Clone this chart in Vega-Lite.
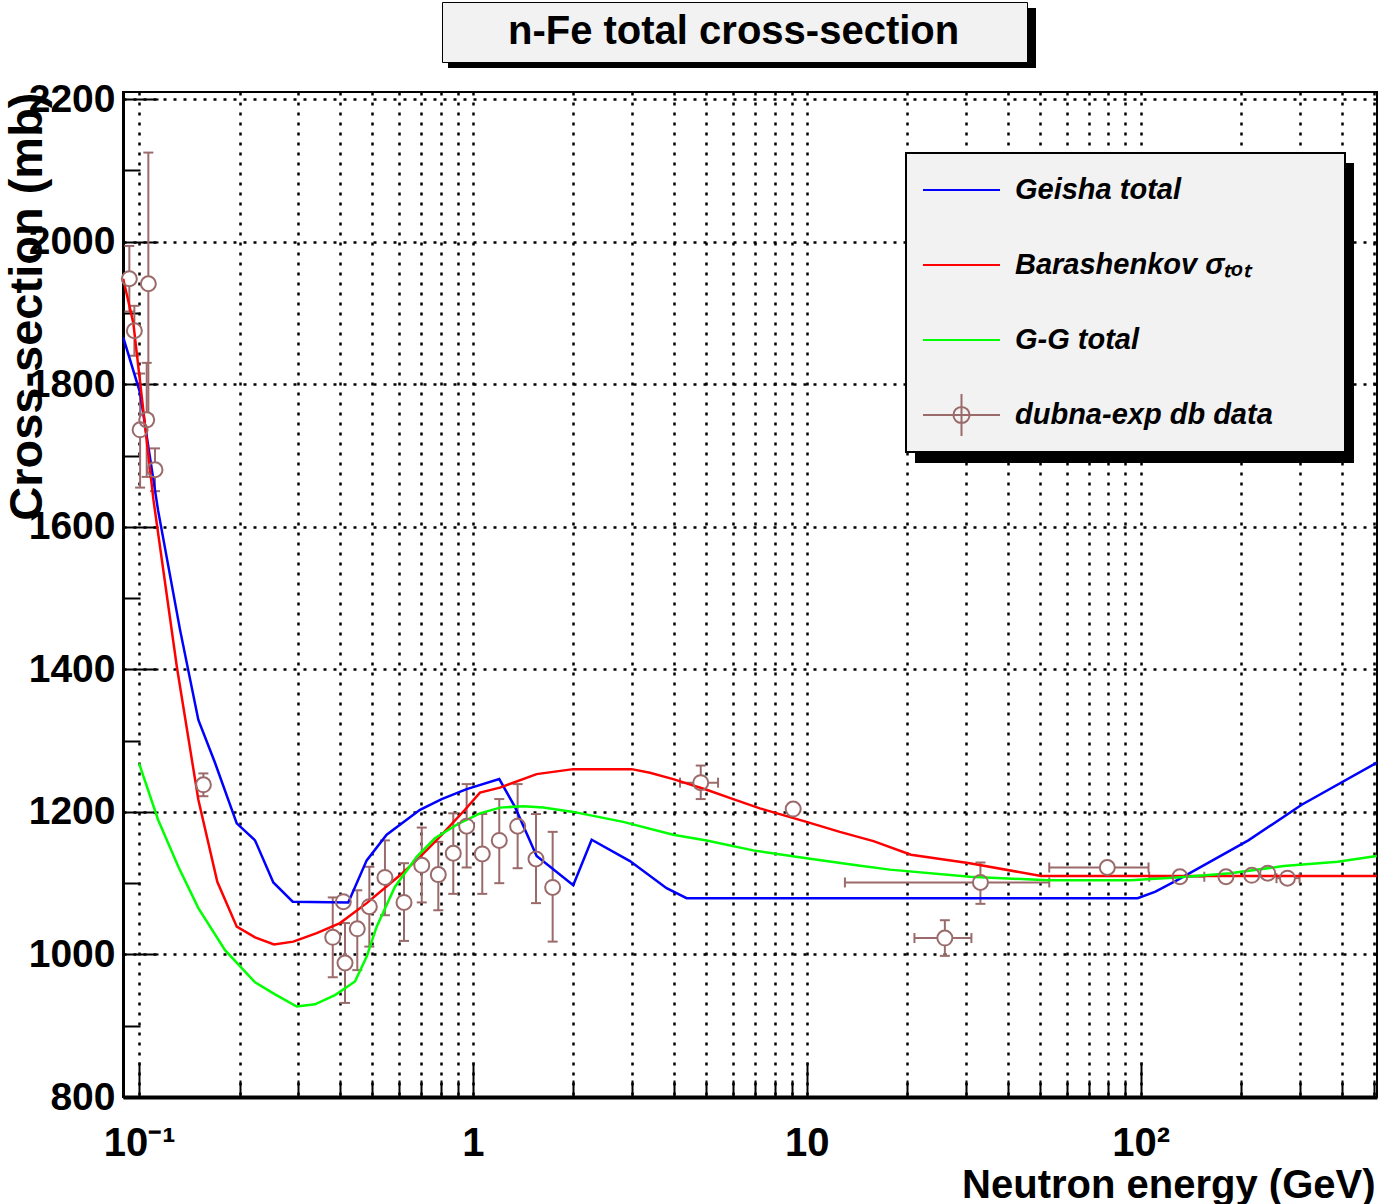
{
  "$schema": "https://vega.github.io/schema/vega-lite/v6.json",
  "width": 1254,
  "height": 1005,
  "autosize": {"type": "none"},
  "padding": {"left": 123, "top": 92, "right": 1, "bottom": 107},
  "background": "white",
  "config": {
    "view": {"stroke": "black", "strokeWidth": 2},
    "legend": {"direction": "vertical", "orient": "none"}
  },
  "datasets": {
    "curves": [
      {"series": "Geisha total", "energy": 0.0896, "xsec": 1866},
      {"series": "Geisha total", "energy": 0.1007, "xsec": 1788},
      {"series": "Geisha total", "energy": 0.114, "xsec": 1623},
      {"series": "Geisha total", "energy": 0.1327, "xsec": 1455},
      {"series": "Geisha total", "energy": 0.1505, "xsec": 1329},
      {"series": "Geisha total", "energy": 0.1688, "xsec": 1269},
      {"series": "Geisha total", "energy": 0.1961, "xsec": 1184},
      {"series": "Geisha total", "energy": 0.2225, "xsec": 1160},
      {"series": "Geisha total", "energy": 0.2524, "xsec": 1101},
      {"series": "Geisha total", "energy": 0.2885, "xsec": 1074},
      {"series": "Geisha total", "energy": 0.4232, "xsec": 1073},
      {"series": "Geisha total", "energy": 0.4805, "xsec": 1132},
      {"series": "Geisha total", "energy": 0.5514, "xsec": 1168},
      {"series": "Geisha total", "energy": 0.6939, "xsec": 1203},
      {"series": "Geisha total", "energy": 0.8058, "xsec": 1218},
      {"series": "Geisha total", "energy": 0.9574, "xsec": 1232},
      {"series": "Geisha total", "energy": 1.1988, "xsec": 1246},
      {"series": "Geisha total", "energy": 1.3357, "xsec": 1207},
      {"series": "Geisha total", "energy": 1.551, "xsec": 1138},
      {"series": "Geisha total", "energy": 1.9967, "xsec": 1097},
      {"series": "Geisha total", "energy": 2.267, "xsec": 1161},
      {"series": "Geisha total", "energy": 2.952, "xsec": 1131},
      {"series": "Geisha total", "energy": 3.801, "xsec": 1093},
      {"series": "Geisha total", "energy": 4.364, "xsec": 1079},
      {"series": "Geisha total", "energy": 97.89, "xsec": 1079},
      {"series": "Geisha total", "energy": 110.7, "xsec": 1088},
      {"series": "Geisha total", "energy": 128.2, "xsec": 1104},
      {"series": "Geisha total", "energy": 210.0, "xsec": 1160},
      {"series": "Geisha total", "energy": 303.4, "xsec": 1210},
      {"series": "Geisha total", "energy": 509, "xsec": 1269},
      {"series": "Barashenkov σₜₒₜ", "energy": 0.0896, "xsec": 1948},
      {"series": "Barashenkov σₜₒₜ", "energy": 0.0961, "xsec": 1886},
      {"series": "Barashenkov σₜₒₜ", "energy": 0.1019, "xsec": 1782},
      {"series": "Barashenkov σₜₒₜ", "energy": 0.1104, "xsec": 1638},
      {"series": "Barashenkov σₜₒₜ", "energy": 0.1297, "xsec": 1404},
      {"series": "Barashenkov σₜₒₜ", "energy": 0.1505, "xsec": 1217},
      {"series": "Barashenkov σₜₒₜ", "energy": 0.1715, "xsec": 1102},
      {"series": "Barashenkov σₜₒₜ", "energy": 0.1961, "xsec": 1039},
      {"series": "Barashenkov σₜₒₜ", "energy": 0.2225, "xsec": 1024},
      {"series": "Barashenkov σₜₒₜ", "energy": 0.2536, "xsec": 1014},
      {"series": "Barashenkov σₜₒₜ", "energy": 0.2897, "xsec": 1018},
      {"series": "Barashenkov σₜₒₜ", "energy": 0.3404, "xsec": 1030},
      {"series": "Barashenkov σₜₒₜ", "energy": 0.3997, "xsec": 1044},
      {"series": "Barashenkov σₜₒₜ", "energy": 0.4805, "xsec": 1072},
      {"series": "Barashenkov σₜₒₜ", "energy": 0.6045, "xsec": 1111},
      {"series": "Barashenkov σₜₒₜ", "energy": 0.6939, "xsec": 1137},
      {"series": "Barashenkov σₜₒₜ", "energy": 0.7873, "xsec": 1163},
      {"series": "Barashenkov σₜₒₜ", "energy": 0.9463, "xsec": 1203},
      {"series": "Barashenkov σₜₒₜ", "energy": 1.0495, "xsec": 1227},
      {"series": "Barashenkov σₜₒₜ", "energy": 1.2046, "xsec": 1234},
      {"series": "Barashenkov σₜₒₜ", "energy": 1.551, "xsec": 1253},
      {"series": "Barashenkov σₜₒₜ", "energy": 1.9967, "xsec": 1260},
      {"series": "Barashenkov σₜₒₜ", "energy": 2.987, "xsec": 1260},
      {"series": "Barashenkov σₜₒₜ", "energy": 3.388, "xsec": 1255},
      {"series": "Barashenkov σₜₒₜ", "energy": 3.978, "xsec": 1246},
      {"series": "Barashenkov σₜₒₜ", "energy": 5.009, "xsec": 1231},
      {"series": "Barashenkov σₜₒₜ", "energy": 6.017, "xsec": 1218},
      {"series": "Barashenkov σₜₒₜ", "energy": 7.233, "xsec": 1205},
      {"series": "Barashenkov σₜₒₜ", "energy": 9.979, "xsec": 1186},
      {"series": "Barashenkov σₜₒₜ", "energy": 12.55, "xsec": 1172},
      {"series": "Barashenkov σₜₒₜ", "energy": 15.83, "xsec": 1159},
      {"series": "Barashenkov σₜₒₜ", "energy": 20.49, "xsec": 1140},
      {"series": "Barashenkov σₜₒₜ", "energy": 30.76, "xsec": 1128},
      {"series": "Barashenkov σₜₒₜ", "energy": 50.33, "xsec": 1110},
      {"series": "Barashenkov σₜₒₜ", "energy": 509, "xsec": 1110},
      {"series": "G-G total", "energy": 0.1, "xsec": 1268},
      {"series": "G-G total", "energy": 0.114, "xsec": 1189},
      {"series": "G-G total", "energy": 0.1311, "xsec": 1123},
      {"series": "G-G total", "energy": 0.1505, "xsec": 1065},
      {"series": "G-G total", "energy": 0.1809, "xsec": 1006},
      {"series": "G-G total", "energy": 0.2225, "xsec": 961},
      {"series": "G-G total", "energy": 0.2554, "xsec": 944},
      {"series": "G-G total", "energy": 0.2967, "xsec": 927},
      {"series": "G-G total", "energy": 0.3363, "xsec": 930},
      {"series": "G-G total", "energy": 0.3862, "xsec": 943},
      {"series": "G-G total", "energy": 0.4433, "xsec": 962},
      {"series": "G-G total", "energy": 0.4805, "xsec": 997},
      {"series": "G-G total", "energy": 0.5147, "xsec": 1039},
      {"series": "G-G total", "energy": 0.5841, "xsec": 1095},
      {"series": "G-G total", "energy": 0.6784, "xsec": 1137},
      {"series": "G-G total", "energy": 0.7694, "xsec": 1163},
      {"series": "G-G total", "energy": 0.8937, "xsec": 1182},
      {"series": "G-G total", "energy": 1.0495, "xsec": 1198},
      {"series": "G-G total", "energy": 1.2046, "xsec": 1206},
      {"series": "G-G total", "energy": 1.4146, "xsec": 1208},
      {"series": "G-G total", "energy": 1.6234, "xsec": 1206},
      {"series": "G-G total", "energy": 1.9967, "xsec": 1200},
      {"series": "G-G total", "energy": 2.818, "xsec": 1186},
      {"series": "G-G total", "energy": 3.978, "xsec": 1168},
      {"series": "G-G total", "energy": 5.009, "xsec": 1160},
      {"series": "G-G total", "energy": 6.906, "xsec": 1146},
      {"series": "G-G total", "energy": 9.979, "xsec": 1135},
      {"series": "G-G total", "energy": 14.09, "xsec": 1125},
      {"series": "G-G total", "energy": 17.72, "xsec": 1119},
      {"series": "G-G total", "energy": 30.76, "xsec": 1109},
      {"series": "G-G total", "energy": 52.89, "xsec": 1104},
      {"series": "G-G total", "energy": 93.16, "xsec": 1104},
      {"series": "G-G total", "energy": 128.2, "xsec": 1108},
      {"series": "G-G total", "energy": 185.6, "xsec": 1114},
      {"series": "G-G total", "energy": 268.0, "xsec": 1124},
      {"series": "G-G total", "energy": 388.9, "xsec": 1130},
      {"series": "G-G total", "energy": 509, "xsec": 1138}
    ],
    "points": [
      {"series": "dubna-exp db data", "energy": 0.0935, "xsec": 1948, "ylo": 1902, "yhi": 1994, "elo": 0.0935, "ehi": 0.0935},
      {"series": "dubna-exp db data", "energy": 0.0968, "xsec": 1875, "ylo": 1840, "yhi": 1910, "elo": 0.0968, "ehi": 0.0968},
      {"series": "dubna-exp db data", "energy": 0.1066, "xsec": 1941, "ylo": 1757, "yhi": 2125, "elo": 0.1066, "ehi": 0.1066},
      {"series": "dubna-exp db data", "energy": 0.1054, "xsec": 1750, "ylo": 1670, "yhi": 1830, "elo": 0.1054, "ehi": 0.1054},
      {"series": "dubna-exp db data", "energy": 0.1007, "xsec": 1736, "ylo": 1655, "yhi": 1815, "elo": 0.1007, "ehi": 0.1007},
      {"series": "dubna-exp db data", "energy": 0.1116, "xsec": 1680, "ylo": 1650, "yhi": 1710, "elo": 0.1116, "ehi": 0.1116},
      {"series": "dubna-exp db data", "energy": 0.1558, "xsec": 1238, "ylo": 1222, "yhi": 1254, "elo": 0.1558, "ehi": 0.1558},
      {"series": "dubna-exp db data", "energy": 0.3802, "xsec": 1024, "ylo": 968, "yhi": 1080, "elo": 0.3802, "ehi": 0.3802},
      {"series": "dubna-exp db data", "energy": 0.409, "xsec": 1074, "ylo": 1067, "yhi": 1081, "elo": 0.409, "ehi": 0.409},
      {"series": "dubna-exp db data", "energy": 0.4138, "xsec": 988, "ylo": 932, "yhi": 1044, "elo": 0.4138, "ehi": 0.4138},
      {"series": "dubna-exp db data", "energy": 0.4503, "xsec": 1036, "ylo": 978, "yhi": 1090, "elo": 0.4503, "ehi": 0.4503},
      {"series": "dubna-exp db data", "energy": 0.4893, "xsec": 1067, "ylo": 1011, "yhi": 1123, "elo": 0.4893, "ehi": 0.4893},
      {"series": "dubna-exp db data", "energy": 0.545, "xsec": 1108, "ylo": 1055, "yhi": 1160, "elo": 0.545, "ehi": 0.545},
      {"series": "dubna-exp db data", "energy": 0.6215, "xsec": 1073, "ylo": 1019, "yhi": 1128, "elo": 0.6215, "ehi": 0.6215},
      {"series": "dubna-exp db data", "energy": 0.7024, "xsec": 1125, "ylo": 1073, "yhi": 1178, "elo": 0.7024, "ehi": 0.7024},
      {"series": "dubna-exp db data", "energy": 0.7873, "xsec": 1112, "ylo": 1062, "yhi": 1158, "elo": 0.7873, "ehi": 0.7873},
      {"series": "dubna-exp db data", "energy": 0.873, "xsec": 1142, "ylo": 1085, "yhi": 1198, "elo": 0.873, "ehi": 0.873},
      {"series": "dubna-exp db data", "energy": 0.9574, "xsec": 1180, "ylo": 1122, "yhi": 1239, "elo": 0.9574, "ehi": 0.9574},
      {"series": "dubna-exp db data", "energy": 1.0661, "xsec": 1141, "ylo": 1085, "yhi": 1197, "elo": 1.0661, "ehi": 1.0661},
      {"series": "dubna-exp db data", "energy": 1.1988, "xsec": 1160, "ylo": 1100, "yhi": 1218, "elo": 1.1988, "ehi": 1.1988},
      {"series": "dubna-exp db data", "energy": 1.3607, "xsec": 1180, "ylo": 1121, "yhi": 1239, "elo": 1.3607, "ehi": 1.3607},
      {"series": "dubna-exp db data", "energy": 1.5442, "xsec": 1134, "ylo": 1072, "yhi": 1197, "elo": 1.5442, "ehi": 1.5442},
      {"series": "dubna-exp db data", "energy": 1.7325, "xsec": 1094, "ylo": 1018, "yhi": 1172, "elo": 1.7325, "ehi": 1.7325},
      {"series": "dubna-exp db data", "energy": 4.81, "xsec": 1241, "ylo": 1218, "yhi": 1265, "elo": 4.17, "ehi": 5.42},
      {"series": "dubna-exp db data", "energy": 9.1, "xsec": 1204, "ylo": 1204, "yhi": 1204, "elo": 9.1, "ehi": 9.1},
      {"series": "dubna-exp db data", "energy": 25.9, "xsec": 1023, "ylo": 998, "yhi": 1048, "elo": 21.0, "ehi": 31.1},
      {"series": "dubna-exp db data", "energy": 33.1, "xsec": 1101, "ylo": 1071, "yhi": 1129, "elo": 13.0, "ehi": 53.2},
      {"series": "dubna-exp db data", "energy": 79.4, "xsec": 1122, "ylo": 1122, "yhi": 1122, "elo": 53.2, "ehi": 105.5},
      {"series": "dubna-exp db data", "energy": 131, "xsec": 1109, "ylo": 1109, "yhi": 1109, "elo": 106, "ehi": 155},
      {"series": "dubna-exp db data", "energy": 180, "xsec": 1109, "ylo": 1109, "yhi": 1109, "elo": 180, "ehi": 180},
      {"series": "dubna-exp db data", "energy": 215, "xsec": 1111, "ylo": 1111, "yhi": 1111, "elo": 215, "ehi": 215},
      {"series": "dubna-exp db data", "energy": 240, "xsec": 1114, "ylo": 1114, "yhi": 1114, "elo": 240, "ehi": 240},
      {"series": "dubna-exp db data", "energy": 275, "xsec": 1107, "ylo": 1107, "yhi": 1107, "elo": 255, "ehi": 299}
    ]
  },
  "layer": [
    {
      "data": {"name": "points"},
      "mark": {"type": "text", "text": ""},
      "encoding": {
        "x": {"field": "energy", "type": "quantitative", "scale": {"type": "log", "domain": [0.0895, 510], "nice": false}},
        "y": {"field": "xsec", "type": "quantitative", "scale": {"domain": [800, 2210], "nice": false, "zero": false}},
        "opacity": {
          "datum": "n-Fe total cross-section",
          "scale": {"range": [1, 1]},
          "legend": {
            "legendX": 319, "legendY": -90, "zindex": 2,
            "title": "\u00a0", "titleOrient": "right", "titlePadding": 62, "titleFontSize": 10,
            "fillColor": "#f2f2f2", "strokeColor": "black", "padding": 6, "clipHeight": 48,
            "symbolSize": 0, "symbolStrokeWidth": 0, "symbolOpacity": 0, "labelOffset": 20,
            "labelFont": "'Liberation Sans', Arial, sans-serif",
            "labelFontSize": 40, "labelFontWeight": "bold", "labelColor": "black", "labelLimit": 0,
            "encode": {
              "labels": {"dy": {"value": 5}},
              "legend": {"strokeWidth": {"value": 2}}
            }
          }
        },
        "fill": {
          "datum": "shadow-title",
          "scale": {"range": ["black"]},
          "legend": {
            "legendX": 325, "legendY": -84, "zindex": 1, "title": null,
            "fillColor": "black", "padding": 0, "clipHeight": 60,
            "symbolSize": 345744, "symbolStrokeWidth": 0, "symbolType": "M-1,-0.102H1V0.102H-1Z",
            "labelExpr": "''", "labelOffset": 0, "labelFontSize": 1
          }
        },
        "stroke": {
          "datum": "shadow-legend",
          "scale": {"range": ["black"]},
          "legend": {
            "legendX": 792, "legendY": 71, "zindex": 1, "title": null,
            "fillColor": "black", "padding": 0, "clipHeight": 300,
            "symbolSize": 192721, "symbolStrokeWidth": 0, "symbolType": "M-1,-0.6834H1V0.6834H-1Z",
            "labelExpr": "''", "labelOffset": 0, "labelFontSize": 1,
            "encode": {"symbols": {"update": {"fill": {"value": "black"}}}}
          }
        }
      }
    },
    {
      "data": {"name": "points"},
      "mark": {"type": "rule", "strokeWidth": 2, "color": "#9b6b6b"},
      "encoding": {
        "x": {"field": "energy", "type": "quantitative", "scale": {"type": "log", "domain": [0.0895, 510], "nice": false}},
        "y": {"field": "ylo", "type": "quantitative", "scale": {"domain": [800, 2210], "nice": false, "zero": false}},
        "y2": {"field": "yhi"}
      }
    },
    {
      "data": {"name": "points"},
      "mark": {"type": "rule", "strokeWidth": 2, "color": "#9b6b6b"},
      "encoding": {
        "x": {"field": "elo", "type": "quantitative", "scale": {"type": "log", "domain": [0.0895, 510], "nice": false}},
        "x2": {"field": "ehi"},
        "y": {"field": "xsec", "type": "quantitative", "scale": {"domain": [800, 2210], "nice": false, "zero": false}}
      }
    },
    {
      "data": {"name": "points"},
      "transform": [{"fold": ["ylo", "yhi"], "as": ["end", "yend"]}],
      "mark": {"type": "tick", "orient": "horizontal", "size": 10, "thickness": 2, "color": "#9b6b6b", "opacity": 1},
      "encoding": {
        "x": {"field": "energy", "type": "quantitative", "scale": {"type": "log", "domain": [0.0895, 510], "nice": false}},
        "y": {"field": "yend", "type": "quantitative", "scale": {"domain": [800, 2210], "nice": false, "zero": false}}
      }
    },
    {
      "data": {"name": "points"},
      "transform": [{"fold": ["elo", "ehi"], "as": ["end", "xend"]}],
      "mark": {"type": "tick", "orient": "vertical", "size": 10, "thickness": 2, "color": "#9b6b6b", "opacity": 1},
      "encoding": {
        "x": {"field": "xend", "type": "quantitative", "scale": {"type": "log", "domain": [0.0895, 510], "nice": false}},
        "y": {"field": "xsec", "type": "quantitative", "scale": {"domain": [800, 2210], "nice": false, "zero": false}}
      }
    },
    {
      "data": {"name": "points"},
      "mark": {"type": "point", "shape": "circle", "filled": true, "color": "white", "opacity": 1, "size": 225, "strokeWidth": 0},
      "encoding": {
        "x": {"field": "energy", "type": "quantitative", "scale": {"type": "log", "domain": [0.0895, 510], "nice": false}},
        "y": {"field": "xsec", "type": "quantitative", "scale": {"domain": [800, 2210], "nice": false, "zero": false}}
      }
    },
    {
      "data": {"name": "curves"},
      "mark": {"type": "line", "strokeWidth": 2.5, "clip": true},
      "encoding": {
        "x": {
          "field": "energy", "type": "quantitative",
          "scale": {"type": "log", "domain": [0.0895, 510], "nice": false},
          "axis": {
            "values": [0.1, 0.2, 0.3, 0.4, 0.5, 0.6, 0.7, 0.8, 0.9, 1, 2, 3, 4, 5, 6, 7, 8, 9, 10, 20, 30, 40, 50, 60, 70, 80, 90, 100, 200, 300, 400, 500],
            "labelExpr": "datum.value == 0.1 ? '10\u207b\u00b9' : datum.value == 1 ? '1' : datum.value == 10 ? '10' : datum.value == 100 ? '10\u00b2' : ''",
            "labelOverlap": false, "labelFlush": false, "labelBound": false,
            "labelFont": "'Liberation Sans', Arial, sans-serif",
            "labelFontSize": 40, "labelFontWeight": "bold", "labelColor": "black", "labelPadding": 61,
            "tickSize": {"condition": {"test": "datum.value == 0.1 || datum.value == 1 || datum.value == 10 || datum.value == 100", "value": -35}, "value": -17},
            "tickColor": "black", "tickWidth": 2,
            "domainColor": "black", "domainWidth": 4,
            "grid": true, "gridColor": "black", "gridDash": [3, 7], "gridWidth": 2.5,
            "title": "Neutron energy (GeV)",
            "titleFont": "'Liberation Sans', Arial, sans-serif",
            "titleFontSize": 40, "titleFontWeight": "bold", "titleColor": "black",
            "titleAnchor": null, "titleAlign": "right", "titleBaseline": "alphabetic",
            "titleX": 1252, "titleY": 100
          }
        },
        "y": {
          "field": "xsec", "type": "quantitative",
          "scale": {"domain": [800, 2210], "nice": false, "zero": false},
          "axis": {
            "values": [800, 850, 900, 950, 1000, 1050, 1100, 1150, 1200, 1250, 1300, 1350, 1400, 1450, 1500, 1550, 1600, 1650, 1700, 1750, 1800, 1850, 1900, 1950, 2000, 2050, 2100, 2150, 2200],
            "format": "d",
            "labelExpr": "datum.value % 200 == 0 ? datum.label : ''",
            "labelOverlap": false, "labelFlush": false, "labelBound": false,
            "labelFont": "'Liberation Sans', Arial, sans-serif",
            "labelFontSize": 39, "labelFontWeight": "bold", "labelColor": "black", "labelPadding": 43,
            "tickSize": {"condition": {"test": "datum.value % 200 == 0", "value": -35}, "value": -17},
            "tickColor": "black", "tickWidth": 2,
            "domainColor": "black", "domainWidth": 3,
            "grid": true, "gridColor": "black", "gridDash": [3, 7], "gridWidth": 2.5,
            "gridOpacity": {"condition": {"test": "datum.value % 200 != 0", "value": 0}, "value": 1},
            "title": "Cross-section (mb)",
            "titleFont": "'Liberation Sans', Arial, sans-serif",
            "titleFontSize": 47, "titleFontWeight": "bold", "titleColor": "black",
            "titleAnchor": null, "titleAngle": 270, "titleAlign": "right", "titleBaseline": "alphabetic",
            "titleX": -82, "titleY": 0
          }
        },
        "color": {
          "field": "series", "type": "nominal",
          "scale": {"domain": ["Geisha total", "Barashenkov σₜₒₜ", "G-G total", "dubna-exp db data"], "range": ["#0000ff", "#ff0000", "#00ff00", "#9b6b6b"]},
          "legend": {
            "legendX": 783, "legendY": 61, "zindex": 2,
            "title": "\u00a0", "titleOrient": "right", "titlePadding": 56, "titleFontSize": 10,
            "fillColor": "#f2f2f2", "strokeColor": "black", "padding": 16,
            "symbolSize": 5929, "symbolStrokeWidth": 2, "symbolOffset": 0, "symbolType": "stroke", "symbolFillColor": "transparent",
            "labelOffset": 14, "clipHeight": 42, "rowPadding": 33,
            "labelFont": "'Liberation Sans', Arial, sans-serif",
            "labelFontSize": 29, "labelFontStyle": "italic", "labelFontWeight": "bold", "labelColor": "black", "labelLimit": 0,
            "encode": {
              "legend": {"update": {"strokeWidth": {"value": 2}}},
              "symbols": {"update": {
                "shape": {"signal": "datum.value === 'dubna-exp db data' ? 'M-1,0H1M0,-0.57V0.57M0.21,0A0.21,0.21 0 1,0 -0.21,0A0.21,0.21 0 1,0 0.21,0' : 'stroke'"},
                "fill": {"value": "transparent"},
                "strokeWidth": {"value": 2},
                "opacity": {"value": 1}
              }}
            }
          }
        }
      }
    },
    {
      "data": {"name": "points"},
      "mark": {"type": "point", "shape": "circle", "filled": false, "size": 225, "strokeWidth": 2, "opacity": 1},
      "encoding": {
        "x": {"field": "energy", "type": "quantitative", "scale": {"type": "log", "domain": [0.0895, 510], "nice": false}},
        "y": {"field": "xsec", "type": "quantitative", "scale": {"domain": [800, 2210], "nice": false, "zero": false}},
        "color": {
          "field": "series", "type": "nominal",
          "scale": {"domain": ["Geisha total", "Barashenkov σₜₒₜ", "G-G total", "dubna-exp db data"], "range": ["#0000ff", "#ff0000", "#00ff00", "#9b6b6b"]},
          "legend": {
            "legendX": 783, "legendY": 61, "zindex": 2,
            "title": "\u00a0", "titleOrient": "right", "titlePadding": 56, "titleFontSize": 10,
            "fillColor": "#f2f2f2", "strokeColor": "black", "padding": 16,
            "symbolSize": 5929, "symbolStrokeWidth": 2, "symbolOffset": 0, "symbolType": "stroke", "symbolFillColor": "transparent",
            "labelOffset": 14, "clipHeight": 42, "rowPadding": 33,
            "labelFont": "'Liberation Sans', Arial, sans-serif",
            "labelFontSize": 29, "labelFontStyle": "italic", "labelFontWeight": "bold", "labelColor": "black", "labelLimit": 0,
            "encode": {
              "legend": {"update": {"strokeWidth": {"value": 2}}},
              "symbols": {"update": {
                "shape": {"signal": "datum.value === 'dubna-exp db data' ? 'M-1,0H1M0,-0.57V0.57M0.21,0A0.21,0.21 0 1,0 -0.21,0A0.21,0.21 0 1,0 0.21,0' : 'stroke'"},
                "fill": {"value": "transparent"},
                "strokeWidth": {"value": 2},
                "opacity": {"value": 1}
              }}
            }
          }
        }
      }
    }
  ]
}
